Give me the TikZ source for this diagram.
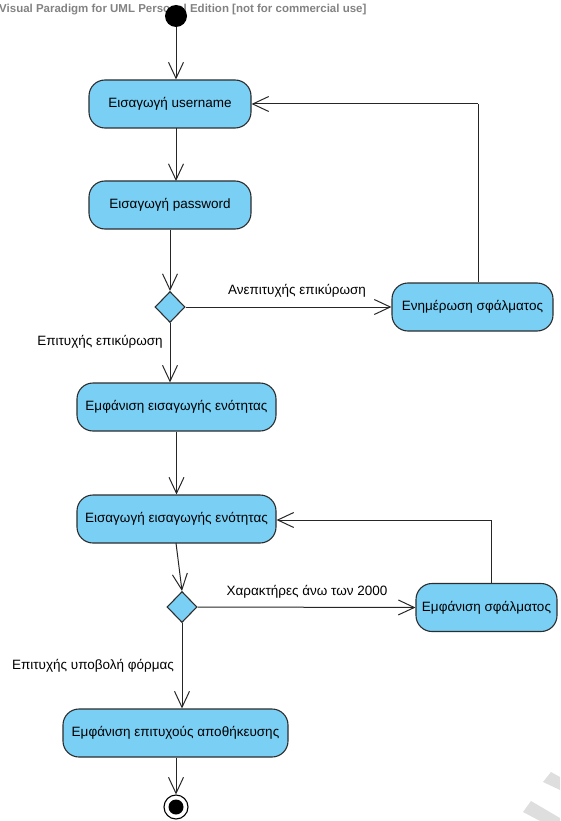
\documentclass[tikz,border=0pt]{standalone}
\usepackage{fontspec}
\setmainfont{Liberation Sans}
\usetikzlibrary{arrows.meta,shapes.geometric}
\definecolor{actfill}{RGB}{122,207,245}
\definecolor{actline}{RGB}{45,45,45}
\definecolor{wmark}{RGB}{222,222,222}
\definecolor{titlegray}{RGB}{130,130,130}
\begin{document}
\begin{tikzpicture}[x=1pt,y=-1pt,
  act/.style={draw=actline, fill=actfill, rounded corners=16pt, line width=1.1pt,
    minimum height=48pt, inner sep=0pt, font=\fontsize{13.5}{15}\selectfont},
  dec/.style={draw=actline, fill=actfill, diamond, inner sep=0pt,
    minimum width=30pt, minimum height=31pt, line width=1.1pt},
  flow/.style={draw=black!85, line width=1pt,
    -{Straight Barb[length=16pt,width=15pt,line width=1pt]}},
  plain/.style={draw=black!85, line width=1pt},
  lbl/.style={font=\fontsize{13.5}{15}\selectfont, inner sep=0pt}
]
\useasboundingbox (0,0) rectangle (560,821);
% watermark
\fill[wmark] (543,782) -- (551,772) -- (560,777) -- (560,790) -- cycle;
\fill[wmark] (523,812) -- (531,801) -- (560,818) -- (560,821) -- (540,821) -- cycle;
% title
\node[anchor=base west, inner sep=0pt, text=titlegray,
  font=\bfseries\fontsize{11.5}{13}\selectfont] (title) at (-1,12.5)
  {Visual Paradigm for UML Personal Edition [not for commercial use]};
% nodes
\node[circle, fill=black, minimum size=22pt, inner sep=0pt] (start) at (176,16) {};
\node[act, minimum width=162pt] (u) at (170,104) {Εισαγωγή username};
\node[act, minimum width=162pt] (p) at (170,205) {Εισαγωγή password};
\node[dec] (d1) at (170,307) {};
\node[act, minimum width=161pt] (e1) at (472.5,307) {Ενημέρωση σφάλματος};
\node[act, minimum width=199pt] (b4) at (176.5,407) {Εμφάνιση εισαγωγής ενότητας};
\node[act, minimum width=199pt] (b5) at (176.5,519) {Εισαγωγή εισαγωγής ενότητας};
\node[dec] (d2) at (182,607) {};
\node[act, minimum width=141pt] (e2) at (486.5,607.5) {Εμφάνιση σφάλματος};
\node[act, minimum width=225pt] (b6) at (175.5,733) {Εμφάνιση επιτυχούς αποθήκευσης};
\node[circle, draw=black, line width=1.1pt, fill=white, minimum size=24pt, inner sep=0pt] (fin) at (176,807) {};
\node[circle, fill=black, minimum size=15pt, inner sep=0pt] (finin) at (fin) {};
% labels
\node[lbl] (l1) at (297,291) {Ανεπιτυχής επικύρωση};
\node[lbl] (l2) at (100,342) {Επιτυχής επικύρωση};
\node[lbl] (l3) at (307,592) {Χαρακτήρες άνω των 2000};
\node[lbl] (l4) at (93,666) {Επιτυχής υποβολή φόρμας};
% connectors
\coordinate (c1) at (478,104);
\coordinate (c2) at (491,520);
\draw[flow] (start.south) -- (start.south |- u.north);
\draw[flow] (176,128) -- (176,181);
\draw[flow] (p.south) -- (d1.north);
\draw[flow] (d1.east) -- (e1.west);
\draw[plain] (e1.north -| c1) -- (c1);
\draw[flow] (c1) -- (u.east);
\draw[flow] (d1.south) -- (d1.south |- b4.north);
\draw[flow] (b4.south) -- (b5.north);
\draw[flow] (176,543) -- (d2.north);
\draw[flow] (d2.east) -- (e2.west);
\draw[plain] (e2.north -| c2) -- (c2);
\draw[flow] (c2) -- (b5.east |- c2);
\draw[flow] (d2.south) -- (d2.south |- b6.north);
\draw[flow] (b6.south -| fin) -- (fin.north);
\end{tikzpicture}
\end{document}
